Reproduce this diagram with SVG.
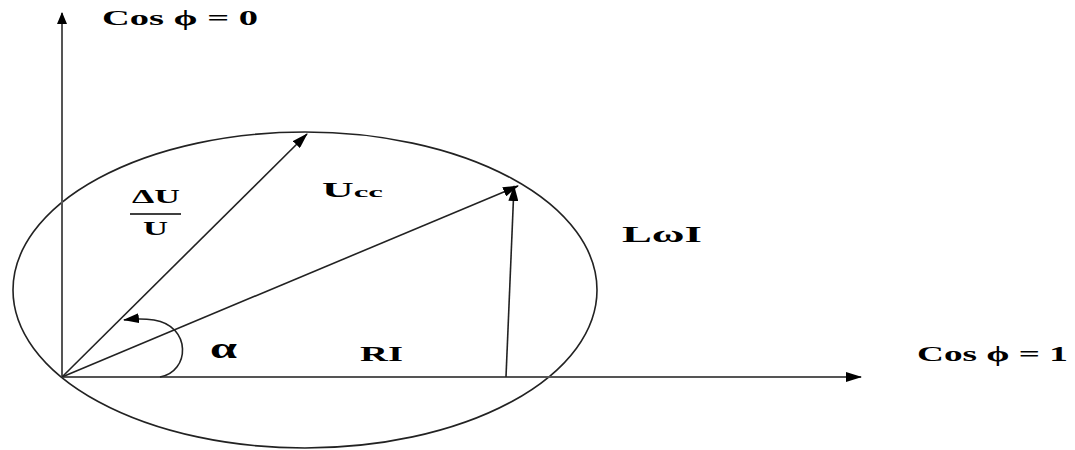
<svg xmlns="http://www.w3.org/2000/svg" width="1075" height="450" viewBox="0 0 1075 450">
<style>
.lbl{font-family:"Liberation Serif","Times New Roman",serif;font-weight:bold;fill:#000}
.axis{stroke:#555;stroke-width:2;fill:none}
.vec{stroke:#222;stroke-width:1.6;fill:none}
</style>
<defs>
<marker id="ah" markerWidth="12" markerHeight="10" refX="11" refY="5" orient="auto" markerUnits="userSpaceOnUse">
<path d="M0,0 L12,5 L0,10 Z" fill="#000"/>
</marker>
<marker id="ahb" markerWidth="16" markerHeight="10" refX="15" refY="5" orient="auto" markerUnits="userSpaceOnUse">
<path d="M0,0 L16,5 L0,10 Z" fill="#000"/>
</marker>
</defs>
<rect width="1075" height="450" fill="#fff"/>
<g id="circle">
<ellipse cx="305" cy="290" rx="292" ry="158" fill="none" stroke="#222" stroke-width="1.6"/>
</g>
<g id="connectors">
<line class="axis" x1="62" y1="377" x2="62" y2="13" marker-end="url(#ah)"/>
<line class="axis" x1="62" y1="377" x2="861" y2="377" marker-end="url(#ahb)"/>
<line class="vec" x1="62" y1="377" x2="307" y2="134" marker-end="url(#ahb)"/>
<line class="vec" x1="62" y1="377" x2="518" y2="186" marker-end="url(#ahb)"/>
<line class="vec" x1="506" y1="377" x2="514" y2="186" marker-end="url(#ahb)"/>
<path class="vec" d="M160,377 C190,372 192,326 154,320 Q140,318 124,320" marker-end="url(#ahb)"/>
</g>
<g id="label-cos0"><text class="lbl" x="102" y="25" font-size="21" textLength="156" lengthAdjust="spacingAndGlyphs">Cos ϕ = 0</text></g>
<g id="label-cos1"><text class="lbl" x="917" y="361" font-size="21" textLength="151" lengthAdjust="spacingAndGlyphs">Cos ϕ = 1</text></g>
<g id="label-du">
<text class="lbl" x="132" y="203" font-size="18" textLength="48" lengthAdjust="spacingAndGlyphs">ΔU</text>
<line x1="130" y1="214" x2="181" y2="214" stroke="#000" stroke-width="1.5"/>
<text class="lbl" x="143" y="235" font-size="18" textLength="25" lengthAdjust="spacingAndGlyphs">U</text>
</g>
<g id="label-ucc"><text class="lbl" x="322" y="197" font-size="20" textLength="61" lengthAdjust="spacingAndGlyphs">U<tspan font-size="15">cc</tspan></text></g>
<g id="label-lwi"><text class="lbl" x="622" y="242" font-size="23" textLength="80" lengthAdjust="spacingAndGlyphs">LωI</text></g>
<g id="label-alpha"><text class="lbl" x="210" y="358" font-size="30" textLength="27" lengthAdjust="spacingAndGlyphs">α</text></g>
<g id="label-ri"><text class="lbl" x="360" y="361" font-size="20" textLength="43" lengthAdjust="spacingAndGlyphs">RI</text></g>
</svg>
